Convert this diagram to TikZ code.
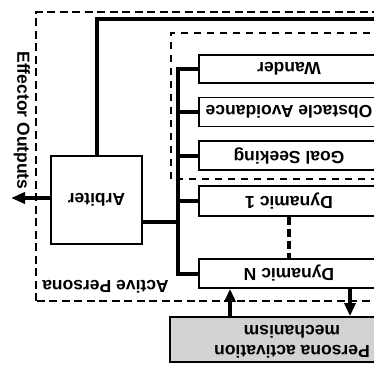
\documentclass[tikz,border=0pt]{standalone}
\usepackage{fontspec}
\setmainfont{Liberation Sans}
\usepackage{graphicx}
\usetikzlibrary{arrows.meta}
\newcommand{\upd}[1]{\rotatebox{180}{#1}}
\tikzset{
  lbl/.style={font=\fontsize{17.5}{20}\selectfont\bfseries},
  box/.style={draw, line width=1.8pt, fill=white, lbl, inner sep=0pt},
  thickline/.style={line width=4pt},
  outerdash/.style={line width=1.6pt, dash pattern=on 8pt off 4.5pt},
  innerdash/.style={line width=1.1pt, dash pattern=on 7pt off 6pt},
  arr/.style={line width=3.2pt, -{Triangle[length=13pt,width=11pt]}},
}
\begin{document}
\begin{tikzpicture}[x=1pt,y=-1pt]
\clip (0,0) rectangle (374,367);
\fill[white] (0,0) rectangle (374,367);
% frames
\draw[outerdash] (36,301) -- (36,12) -- (395,12) -- (395,301) -- cycle;
\draw[innerdash] (171,179) -- (171,33) -- (395,33) -- (395,179) -- cycle;
% nodes
\node[box, minimum width=91pt, minimum height=88pt] (arbiter) at (96.5,200) {\upd{Arbiter}};
\node[box, minimum width=180pt, minimum height=28pt] (wander) at (289,69) {\upd{Wander}};
\node[box, minimum width=180pt, minimum height=29pt] (obst) at (289,112) {\upd{Obstacle Avoidance}};
\node[box, minimum width=180pt, minimum height=29pt] (goal) at (289,155.5) {\upd{Goal Seeking}};
\node[box, minimum width=180pt, minimum height=30pt] (dyn1) at (289,201) {\upd{Dynamic 1}};
\node[box, minimum width=180pt, minimum height=29pt] (dynN) at (289,273.5) {\upd{Dynamic N}};
\node[draw, line width=1.8pt, fill=gray!35, lbl, minimum width=244pt, minimum height=45pt, inner sep=0pt] (pam) at (292,339.5)
  {\upd{\begin{tabular}{@{}c@{}}Persona activation\\mechanism\end{tabular}}};
\node[lbl, inner sep=0pt] (active) at (105.5,287) {\upd{Active Persona}};
\node[lbl, inner sep=0pt, rotate=-90] (effector) at (22,120.5) {Effector Outputs};
% coordinates
\coordinate (topright) at (395,19);
\coordinate (outl) at (11,198);
\coordinate (busx) at (178,222);
% connectors
\draw[thickline] (arbiter.north) -- (arbiter.north |- topright) -- (topright);
\draw[thickline, -{Triangle[length=14pt,width=11pt]}] (arbiter.west |- outl) -- (outl);
\draw[thickline] (arbiter.east |- busx) -- (busx);
\draw[thickline, line cap=rect] (wander.west -| busx) -- (dynN.west -| busx);
\foreach \b in {wander,obst,goal,dyn1,dynN}
  \draw[thickline] (\b.west -| busx) -- (\b.west);
\draw[line width=4pt, dash pattern=on 8pt off 4pt] (dyn1.south) -- (dynN.north);
\draw[arr] (pam.north -| 230,0) -- (dynN.south -| 230,0);
\draw[arr] (dynN.south -| 350,0) -- (pam.north -| 350,0);
\end{tikzpicture}
\end{document}
